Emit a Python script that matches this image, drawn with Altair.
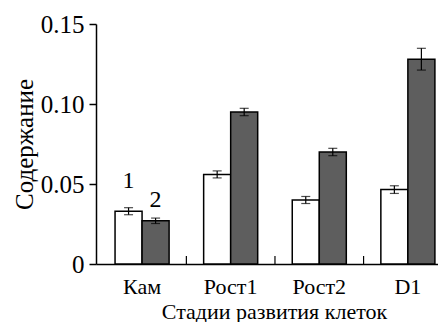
import altair as alt
import pandas as pd

categories = ["Кам", "Рост1", "Рост2", "D1"]
series_names = ["1", "2"]
values_1 = [0.033, 0.056, 0.040, 0.0465]
errors_1 = [0.0022, 0.0022, 0.0022, 0.0024]
values_2 = [0.027, 0.095, 0.070, 0.128]
errors_2 = [0.0017, 0.0023, 0.0023, 0.0068]
label_cat = ["Кам", "Кам"]
label_y = [0.052, 0.040]
y_ticks = [0, 0.05, 0.10, 0.15]
boundary_cats = ["Рост1", "Рост2", "D1"]

FONT = "'Liberation Serif', 'Times New Roman', 'DejaVu Serif', serif"
W, H = 342, 240
P_IN, P_OUT = 0.39, 0.125
STEP = W / (len(categories) - P_IN + 2 * P_OUT)

rows = []
for c, v, e in zip(categories, values_1, errors_1):
    rows.append({"cat": c, "series": "1", "value": v, "lo": v - e, "hi": v + e})
for c, v, e in zip(categories, values_2, errors_2):
    rows.append({"cat": c, "series": "2", "value": v, "lo": v - e, "hi": v + e})
df = pd.DataFrame(rows)

labels_df = pd.DataFrame({"cat": label_cat, "series": series_names, "y": label_y})
bounds_df = pd.DataFrame({"cat": boundary_cats})

xscale = alt.Scale(domain=categories, paddingInner=P_IN, paddingOuter=P_OUT, align=0.86)
yscale = alt.Scale(domain=[0, 0.15], nice=False, zero=True)
xoff = alt.XOffset("series:N", scale=alt.Scale(domain=series_names, paddingInner=0, paddingOuter=0))

x_axis = alt.Axis(
    title="Стадии развития клеток", labelAngle=0, ticks=False, tickSize=0,
    labelPadding=12, labelFont=FONT, labelFontSize=22, labelColor="black",
    titleFont=FONT, titleFontSize=22, titleFontWeight="normal", titleColor="black",
    titleBaseline="alphabetic", titleX=178, titleY=54, titleAnchor="middle",
    domainColor="black", domainWidth=1.5,
)
y_axis = alt.Axis(
    title="Содержание", values=y_ticks, grid=False,
    labelExpr="datum.value == 0 ? '0' : format(datum.value, '.2f')",
    labelFont=FONT, labelFontSize=25, labelColor="black", labelPadding=5,
    tickSize=7, tickColor="black", tickWidth=1.5,
    titleFont=FONT, titleFontSize=25, titleFontWeight="normal", titleColor="black",
    titleBaseline="middle", titleX=-72, titleY=120, titleAngle=-90,
    domainColor="black", domainWidth=1.5,
)

base = alt.Chart(df)
bars = base.mark_bar(stroke="black", strokeWidth=1.5).encode(
    x=alt.X("cat:N", scale=xscale, axis=x_axis, sort=categories),
    xOffset=xoff,
    y=alt.Y("value:Q", scale=yscale, axis=y_axis),
    fill=alt.Fill("series:N", scale=alt.Scale(domain=series_names, range=["white", "#5e5e5e"]), legend=None),
)
err = base.mark_rule(color="black", strokeWidth=1.2).encode(
    x=alt.X("cat:N", scale=xscale, sort=categories), xOffset=xoff,
    y=alt.Y("lo:Q", scale=yscale), y2="hi:Q",
)
cap_hi = base.mark_tick(color="black", size=9, thickness=1.2).encode(
    x=alt.X("cat:N", scale=xscale, sort=categories), xOffset=xoff,
    y=alt.Y("hi:Q", scale=yscale),
)
cap_lo = base.mark_tick(color="black", size=9, thickness=1.2).encode(
    x=alt.X("cat:N", scale=xscale, sort=categories), xOffset=xoff,
    y=alt.Y("lo:Q", scale=yscale),
)
labels = alt.Chart(labels_df).mark_text(
    font=FONT, fontSize=24, color="black", baseline="middle", align="center"
).encode(
    x=alt.X("cat:N", scale=xscale, sort=categories), xOffset=xoff,
    y=alt.Y("y:Q", scale=yscale), text="series:N",
)
ticks = alt.Chart(bounds_df).mark_rule(color="black", strokeWidth=1.2, xOffset=-STEP / 2).encode(
    x=alt.X("cat:N", scale=xscale, sort=categories),
    y=alt.datum(0, scale=yscale), y2=alt.datum(0.005),
)

chart = alt.layer(bars, err, cap_hi, cap_lo, labels, ticks).properties(
    width=W, height=H,
    padding={"left": 88, "top": 16, "right": 0, "bottom": 58},
    autosize=alt.AutoSizeParams(type="none"),
).configure_view(stroke=None)

chart.save("out.html", embed_options={"renderer": "svg", "actions": False})
